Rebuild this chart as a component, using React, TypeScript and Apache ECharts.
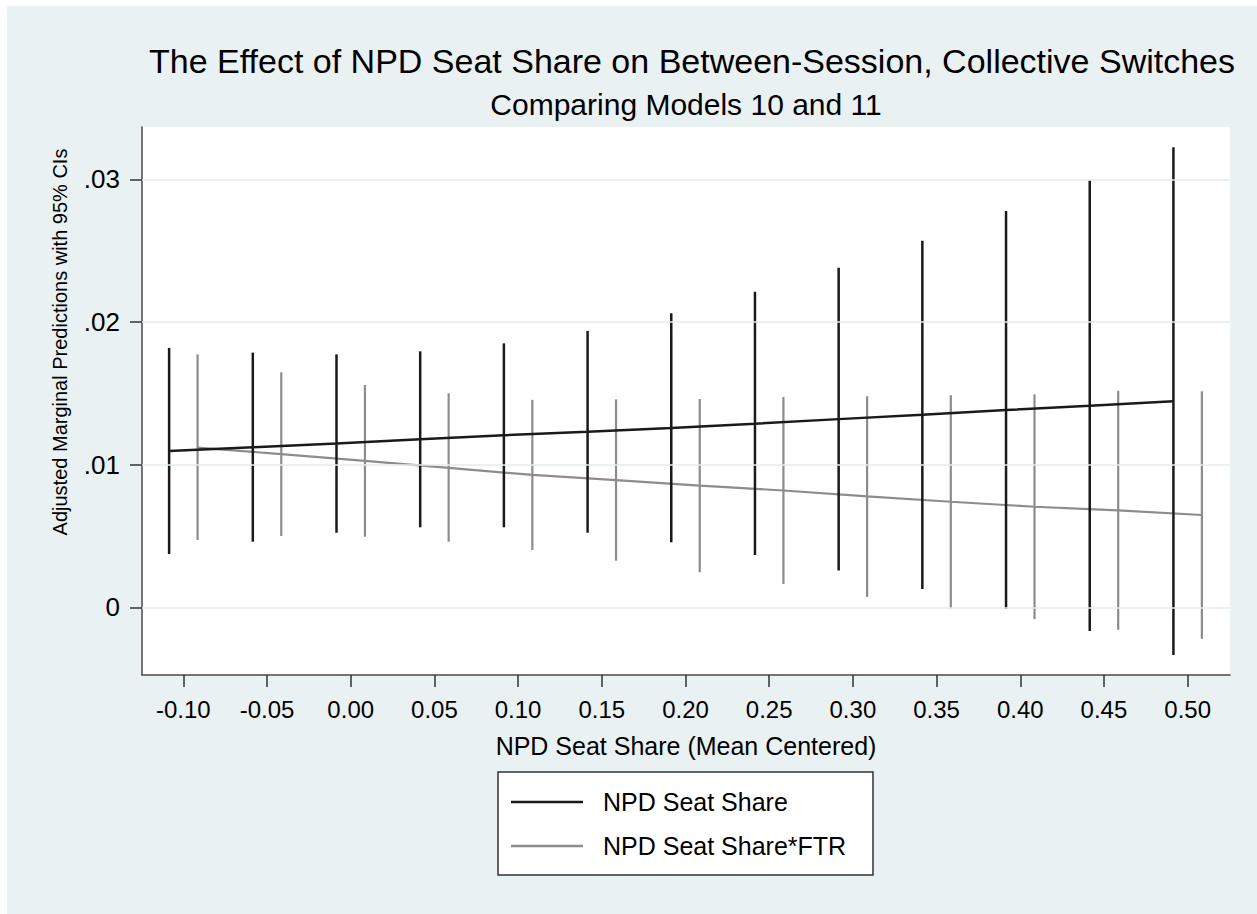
import React, { useEffect, useRef } from "react";
import * as echarts from "echarts";

// NPD seat share (mean centered) evaluation points
const seatShare = [-0.1, -0.05, 0, 0.05, 0.1, 0.15, 0.2, 0.25, 0.3, 0.35, 0.4, 0.45, 0.5];
// horizontal dodge between the two models (data units)
const modelOffset = 0.0085;

// Model 10: NPD Seat Share
const m10Est = [0.01097, 0.01123, 0.01149, 0.01179, 0.01207, 0.01232, 0.01258, 0.01288, 0.0132, 0.0135, 0.01384, 0.01414, 0.01446];
const m10Lo = [0.00375, 0.00461, 0.00524, 0.00562, 0.00562, 0.00524, 0.00457, 0.00368, 0.00259, 0.0013, -0.0001, -0.00165, -0.00333];
const m10Hi = [0.01819, 0.01786, 0.01774, 0.01795, 0.01851, 0.01938, 0.02062, 0.02213, 0.02381, 0.0257, 0.02779, 0.02994, 0.03225];

// Model 11: NPD Seat Share*FTR
const m11Est = [0.0112, 0.01075, 0.01028, 0.00978, 0.00929, 0.00893, 0.00854, 0.0082, 0.00778, 0.00741, 0.00706, 0.00681, 0.00648];
const m11Lo = [0.00473, 0.00501, 0.00496, 0.00461, 0.00403, 0.00328, 0.00247, 0.00165, 0.00074, -0.00006, -0.00081, -0.00156, -0.00219];
const m11Hi = [0.01774, 0.01648, 0.01559, 0.01501, 0.01455, 0.01458, 0.01461, 0.01475, 0.0148, 0.01488, 0.01493, 0.01518, 0.01515];

const xTickValues = [-0.1, -0.05, 0, 0.05, 0.1, 0.15, 0.2, 0.25, 0.3, 0.35, 0.4, 0.45, 0.5];
const yTickValues = [0, 0.01, 0.02, 0.03];
const yTickLabels = ["0", ".01", ".02", ".03"];

const seriesNames = ["NPD Seat Share", "NPD Seat Share*FTR"];
const FONT = "'Liberation Sans', Arial, Helvetica, sans-serif";
const BLACK = "#1a1a1a";
const GRAY = "#8c8c8c";
const BG = "#eaf1f3";

function ciSeries(name: string, xs: number[], lo: number[], hi: number[], color: string, width: number, z: number) {
  return {
    type: "custom",
    name,
    z,
    data: xs.map((x, i) => [x, lo[i], hi[i]]),
    encode: { x: 0, y: [1, 2] },
    renderItem: (params: any, api: any) => {
      const x = api.value(0);
      const p1 = api.coord([x, api.value(1)]);
      const p2 = api.coord([x, api.value(2)]);
      return {
        type: "line",
        shape: { x1: p1[0], y1: p1[1], x2: p2[0], y2: p2[1] },
        style: { stroke: color, lineWidth: width },
      };
    },
  };
}

export default function App() {
  const ref = useRef<HTMLDivElement>(null);
  useEffect(() => {
    if (!ref.current) return;
    const chart = echarts.init(ref.current, undefined, { renderer: "svg" });
    const x10 = seatShare.map((x) => x - modelOffset);
    const x11 = seatShare.map((x) => x + modelOffset);
    chart.setOption({
      animation: false,
      backgroundColor: "#ffffff",
      textStyle: { fontFamily: FONT },
      title: [
        {
          text: "The Effect of NPD Seat Share on Between-Session, Collective Switches",
          left: 692,
          top: 44,
          textAlign: "center",
          padding: 0,
          textStyle: { fontSize: 34, fontWeight: "normal", color: "#000", fontFamily: FONT },
        },
        {
          text: "Comparing Models 10 and 11",
          left: 686,
          top: 89,
          textAlign: "center",
          padding: 0,
          textStyle: { fontSize: 30, fontWeight: "normal", color: "#000", fontFamily: FONT },
        },
      ],
      grid: {
        left: 142,
        top: 127,
        width: 1088,
        height: 548,
        show: true,
        backgroundColor: "#ffffff",
        borderWidth: 0,
        containLabel: false,
      },
      xAxis: {
        type: "value",
        min: -0.1247,
        max: 0.5253,
        name: "NPD Seat Share (Mean Centered)",
        nameLocation: "middle",
        nameGap: 58,
        nameTextStyle: { fontSize: 25, color: "#000", fontFamily: FONT },
        axisLine: { show: true, onZero: false, lineStyle: { color: "#4a4a4a", width: 1.5 } },
        axisTick: { show: true, length: 12, customValues: xTickValues, lineStyle: { color: "#333", width: 1.5 } },
        axisLabel: {
          customValues: xTickValues,
          margin: 22,
          fontSize: 24,
          color: "#000",
          fontFamily: FONT,
          formatter: (v: number) => v.toFixed(2),
        },
        splitLine: { show: false },
      },
      yAxis: {
        type: "value",
        min: -0.00473,
        max: 0.03367,
        axisLine: { show: true, onZero: false, lineStyle: { color: "#4a4a4a", width: 1.5 } },
        axisTick: { show: true, length: 12, customValues: yTickValues, lineStyle: { color: "#333", width: 1.5 } },
        axisLabel: {
          customValues: yTickValues,
          margin: 22,
          fontSize: 26,
          color: "#000",
          fontFamily: FONT,
          formatter: (v: number) => {
            const i = yTickValues.findIndex((t) => Math.abs(t - v) < 1e-9);
            return i >= 0 ? yTickLabels[i] : "";
          },
        },
        splitLine: { show: false },
      },
      series: [
        {
          type: "line",
          name: "gridlines",
          data: [],
          silent: true,
          z: 1,
          markLine: {
            silent: true,
            symbol: "none",
            label: { show: false },
            lineStyle: { color: "#e2ecee", width: 1.5, type: "solid" },
            data: yTickValues.map((v) => ({ yAxis: v })),
          },
        },
        ciSeries(seriesNames[1] + " CI", x11, m11Lo, m11Hi, GRAY, 2.2, 2),
        {
          type: "line",
          name: seriesNames[1],
          data: x11.map((x, i) => [x, m11Est[i]]),
          showSymbol: false,
          symbol: "none",
          z: 3,
          lineStyle: { color: GRAY, width: 2.2 },
          itemStyle: { color: GRAY },
        },
        ciSeries(seriesNames[0] + " CI", x10, m10Lo, m10Hi, BLACK, 2.5, 4),
        {
          type: "line",
          name: seriesNames[0],
          data: x10.map((x, i) => [x, m10Est[i]]),
          showSymbol: false,
          symbol: "none",
          z: 5,
          lineStyle: { color: BLACK, width: 2.5 },
          itemStyle: { color: BLACK },
        },
      ],
      graphic: [
        {
          type: "rect",
          z: -100,
          silent: true,
          shape: { x: 7, y: 6, width: 1257, height: 914 },
          style: { fill: BG },
        },
        {
          type: "text",
          x: 60,
          y: 342,
          rotation: Math.PI / 2,
          style: {
            text: "Adjusted Marginal Predictions with 95% CIs",
            fontSize: 20,
            fontFamily: FONT,
            fill: "#000",
            align: "center",
            verticalAlign: "middle",
          },
        },
        {
          type: "rect",
          shape: { x: 498, y: 772, width: 375, height: 103 },
          style: { fill: "#ffffff", stroke: "#333", lineWidth: 1.5 },
        },
        {
          type: "line",
          shape: { x1: 511, y1: 802, x2: 583, y2: 802 },
          style: { stroke: BLACK, lineWidth: 2.5 },
        },
        {
          type: "line",
          shape: { x1: 511, y1: 846, x2: 583, y2: 846 },
          style: { stroke: GRAY, lineWidth: 2.5 },
        },
        {
          type: "text",
          x: 603,
          y: 802,
          style: { text: seriesNames[0], fontSize: 25, fontFamily: FONT, fill: "#000", align: "left", verticalAlign: "middle" },
        },
        {
          type: "text",
          x: 603,
          y: 846,
          style: { text: seriesNames[1], fontSize: 25, fontFamily: FONT, fill: "#000", align: "left", verticalAlign: "middle" },
        },
      ],
    });
    return () => chart.dispose();
  }, []);
  return (
    <div
      ref={ref}
      style={{ position: "fixed", left: 0, top: 0, width: 1257, height: 914 }}
    />
  );
}
